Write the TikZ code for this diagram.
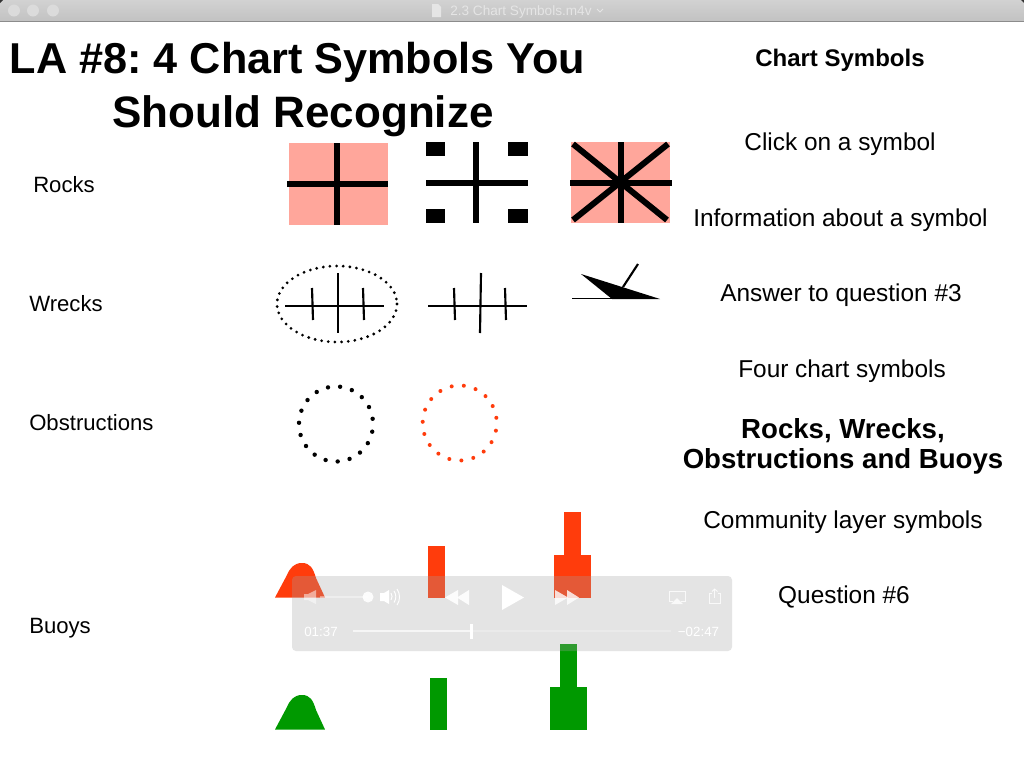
\documentclass[tikz,border=0pt]{standalone}
\usepackage{fontspec}
\setmainfont{Liberation Sans}
\frenchspacing
\definecolor{pinkfill}{RGB}{255,166,155}
\definecolor{buoyred}{RGB}{255,60,12}
\definecolor{buoygreen}{RGB}{0,153,0}
\definecolor{barlight}{RGB}{210,210,210}
\definecolor{bardark}{RGB}{194,194,194}
\tikzset{
  x=0.75pt,y=-0.75pt,
  lbl/.style={inner sep=0pt,anchor=base west,font=\fontsize{16.6}{20}\selectfont},
  rlbl/.style={inner sep=0pt,anchor=base,font=\fontsize{18.3}{20}\selectfont},
  rbold/.style={inner sep=0pt,anchor=base,font=\fontsize{20.7}{22}\selectfont\bfseries},
  ttl/.style={inner sep=0pt,anchor=base,font=\fontsize{33}{34}\selectfont\bfseries},
  bar/.style={line width=4.5pt},
  wline/.style={line width=1.6pt},
  dot/.style={line cap=round,line width=2pt},
  ctl/.style={fill=white,draw=none},
  ctlo/.style={draw=white,line width=0.7pt,fill=none},
  timetxt/.style={inner sep=0pt,anchor=base,text=white,font=\fontsize{10}{11}\selectfont}
}
\begin{document}
\begin{tikzpicture}
\useasboundingbox (0,0) rectangle (1024,768);
\fill[white] (0,0) rectangle (1024,768);
% window title bar
\shade[top color=barlight,bottom color=bardark] (0,0) rectangle (1024,21);
\fill[black!45] (0,21) rectangle (1024,22);
\fill[black!80] (0,0) -- (3,0) -- (0,3) -- cycle;
\fill[black!80] (1024,0) -- (1021,0) -- (1024,3) -- cycle;
\foreach \cx in {14,33,53} \fill[black!14] (\cx,10.5) circle (6);
\fill[white!90!black] (432,4) -- (438,4) -- (441,7) -- (441,17) -- (432,17) -- cycle;
\node[inner sep=0pt,anchor=base west,text=white!90!black,font=\fontsize{10.2}{12}\selectfont] (wintitle) at (450,15) {2.3 Chart Symbols.m4v};
\draw[white!90!black,line width=0.7pt] (597,9) -- (600,12) -- (603,9);
% titles
\node[ttl,font=\fontsize{32.4}{34}\selectfont\bfseries] (t1) at (297.5,73) {LA \#8: 4 Chart Symbols You};
\node[ttl] (t2) at (303,127) {Should Recognize};
% row labels
\node[lbl] (rocks) at (33,192) {Rocks};
\node[lbl] (wrecks) at (29,311) {Wrecks};
\node[lbl] (obstr) at (29,430) {Obstructions};
\node[lbl] (buoys) at (29,633) {Buoys};
% right column
\node[rlbl,font=\fontsize{18}{20}\selectfont\bfseries] (r0) at (840,66) {Chart Symbols};
\node[rlbl] (r1) at (840,150) {Click on a symbol};
\node[rlbl] (r2) at (840.5,226) {Information about a symbol};
\node[rlbl] (r3) at (841,301) {Answer to question \#3};
\node[rlbl] (r4) at (842,377) {Four chart symbols};
\node[rbold] (r5) at (843,438) {Rocks, Wrecks,};
\node[rbold] (r6) at (843,468) {Obstructions and Buoys};
\node[rlbl] (r7) at (843,528) {Community layer symbols};
\node[rlbl] (r8) at (844,603) {Question \#6};
% rock 1
\fill[pinkfill] (289,143) rectangle (388,225);
\draw[bar] (337,143) -- (337,225);
\draw[bar] (287,184) -- (388,184);
% rock 2
\fill (426,142) rectangle (445,156);
\fill (508,142) rectangle (528,156);
\fill (426,209) rectangle (445,223);
\fill (508,209) rectangle (528,223);
\draw[bar] (476,142) -- (476,223);
\draw[bar] (426,183) -- (528,183);
% rock 3
\fill[pinkfill] (571,142) rectangle (670,223);
\draw[bar] (621,142) -- (621,223);
\draw[bar] (570,183) -- (672,183);
\draw[bar] (573,220) -- (668,144);
\draw[bar] (573,144) -- (667,220);
% wreck 1
\draw[dot,line width=2.3pt,dash pattern=on 0pt off 5pt] (337,304) ellipse (60 and 38);
\draw[wline] (285,306) -- (384,306);
\draw[wline] (338,273) -- (338,333);
\draw[wline] (312,288) -- (313,320);
\draw[wline] (363,288) -- (364,320);
% wreck 2
\draw[wline] (428,306) -- (527,306);
\draw[wline] (481,273) -- (480,333);
\draw[wline] (454,288) -- (455,320);
\draw[wline] (505,288) -- (506,320);
% wreck 3
\fill (581,274) -- (660,299) -- (612,299) -- cycle;
\draw[line width=1.2pt] (572,298.5) -- (612,298.5);
\draw[wline] (623,287) -- (638,264);
% obstructions
\foreach \i in {0,...,18} \fill ({336+37*cos(8+\i*18.9)},{424-37.5*sin(8+\i*18.9)}) circle (2.2);
\foreach \i in {0,...,18} \fill[buoyred] ({459.7+37*cos(8+\i*18.9)},{423-37.5*sin(8+\i*18.9)}) circle (2);
% red buoys
\fill[buoyred] (275,597.5) -- (287,575) .. controls (290,568) and (294,563) .. (302,563) .. controls (310,563) and (313,568) .. (316,578) -- (325,597.5) -- cycle;
\fill[buoyred] (428,546) rectangle (445,598);
\fill[buoyred] (564,512) rectangle (581,555);
\fill[buoyred] (554,555) rectangle (591,598);
% green buoys
\fill[buoygreen] (275,729.5) -- (287,707) .. controls (290,700) and (294,695) .. (302,695) .. controls (310,695) and (313,700) .. (316,710) -- (325,729.5) -- cycle;
\fill[buoygreen] (430,678) rectangle (447,730);
\fill[buoygreen] (560,644) rectangle (577,687);
\fill[buoygreen] (550,687) rectangle (587,730);
% player panel
\fill[black!36,opacity=0.29,rounded corners=3pt] (292,576) rectangle (732,651);
% volume
\fill[ctl,opacity=0.5] (304,594) -- (308,594) -- (316,590) -- (316,604) -- (308,600) -- (304,600) -- cycle;
\draw[white,opacity=0.4,line width=1.1pt] (320,597) -- (368,597);
\fill[white,opacity=0.9] (368,597) circle (5.5);
\fill[ctl] (380,593) -- (384,593) -- (389,590) -- (389,604) -- (384,601) -- (380,601) -- cycle;
\draw[ctlo] (391,593) arc (-35:35:6);
\draw[ctlo] (394,591) arc (-35:35:10);
\draw[ctlo] (397,589) arc (-35:35:14);
% transport
\fill[ctl,opacity=0.9] (445,597.5) -- (458,590) -- (458,605) -- cycle;
\fill[ctl,opacity=0.9] (457,597.5) -- (469,590) -- (469,605) -- cycle;
\fill[ctl] (502,585) -- (524,597.5) -- (502,610) -- cycle;
\fill[ctl,opacity=0.8] (555,590) -- (568,597.5) -- (555,605) -- cycle;
\fill[ctl,opacity=0.8] (567,590) -- (579,597.5) -- (567,605) -- cycle;
% airplay and share
\draw[ctlo,opacity=0.8] (673,601) -- (669,601) -- (669,591.5) -- (685,591.5) -- (685,601) -- (681,601);
\fill[ctl,opacity=0.8] (677,598) -- (683,604) -- (671,604) -- cycle;
\draw[ctlo,opacity=0.8] (712,593) -- (709.5,593) -- (709.5,603.5) -- (720,603.5) -- (720,593) -- (717.5,593);
\draw[ctlo,opacity=0.8] (714.7,598) -- (714.7,589);
\draw[ctlo,opacity=0.8] (712,591.5) -- (714.7,589) -- (717.5,591.5);
% timeline
\node[timetxt] (tleft) at (321,636) {01:37};
\node[timetxt] (tright) at (698.5,636) {−02:47};
\draw[white,opacity=0.25,line width=1.5pt] (471,631) -- (671,631);
\draw[white,opacity=0.7,line width=1.5pt] (353,631) -- (471,631);
\fill[white] (470,624) rectangle (473,639);
\end{tikzpicture}
\end{document}
